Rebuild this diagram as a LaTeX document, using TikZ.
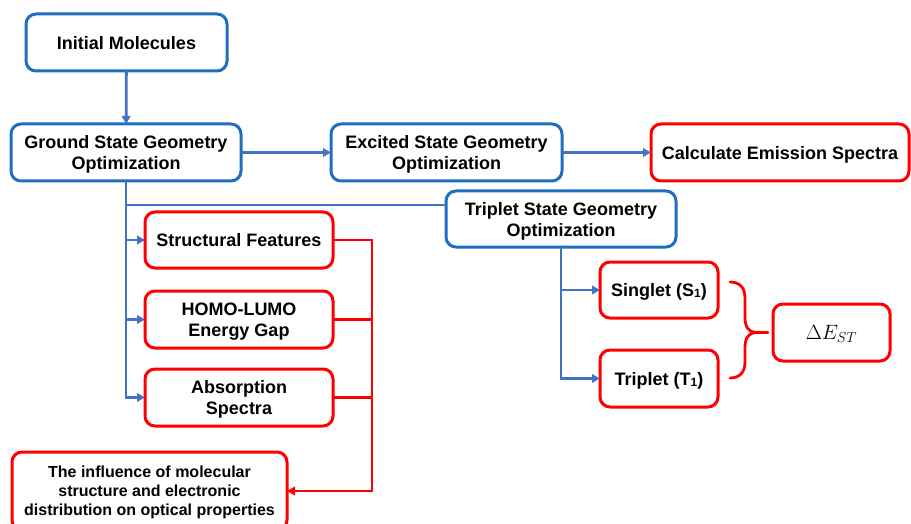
\documentclass[tikz,border=0pt]{standalone}
\usepackage{fontspec}
\setmainfont{Liberation Sans}
\usetikzlibrary{arrows.meta}
\definecolor{boxblue}{HTML}{1F6FC0}
\definecolor{lineblue}{HTML}{4472C4}
\definecolor{boxred}{HTML}{FF0000}
\tikzset{
  box/.style={draw, rounded corners=10pt, line width=3pt, inner sep=0pt, outer sep=0pt,
    align=center, font=\bfseries\fontsize{18}{21}\selectfont, text=black, text depth=0pt},
  bbox/.style={box, draw=boxblue},
  rbox/.style={box, draw=boxred},
  bconn/.style={draw=lineblue, line width=2.8pt, -{Triangle[length=8pt,width=8.5pt]}},
  bline/.style={draw=lineblue, line width=2.8pt},
  rconn/.style={draw=boxred, line width=2.8pt, -{Triangle[length=8pt,width=8.5pt]}},
  rline/.style={draw=boxred, line width=2.8pt},
}
\newcommand{\subone}{\raisebox{-1pt}{\fontsize{12}{12}\selectfont 1}}
\begin{document}
\begin{tikzpicture}[x=1pt,y=-1pt]
\useasboundingbox (0,0) rectangle (911,524);
\clip (0,0) rectangle (911,524);
\node[bbox, minimum width=201pt, minimum height=57pt] (init) at (126.5,42.5) {Initial Molecules};
\node[bbox, minimum width=230pt, minimum height=57pt] (ground) at (126,152.5) {Ground State Geometry\\Optimization};
\node[bbox, minimum width=231pt, minimum height=57pt] (excited) at (446.5,152.5) {Excited State Geometry\\Optimization};
\node[rbox, minimum width=258pt, minimum height=57pt] (emission) at (780,152.5) {Calculate Emission Spectra};
\node[bbox, minimum width=230pt, minimum height=56pt] (triplet) at (561,219) {Triplet State Geometry\\Optimization};
\node[rbox, minimum width=188pt, minimum height=56pt] (struct) at (239,240) {Structural Features};
\node[rbox, minimum width=188pt, minimum height=57pt] (homo) at (239,319.5) {HOMO-LUMO\\Energy Gap};
\node[rbox, minimum width=188pt, minimum height=57pt] (abs) at (239,397.5) {Absorption\\Spectra};
\node[rbox, minimum width=275pt, minimum height=78pt, font=\bfseries\fontsize{16}{19}\selectfont] (infl) at (149.5,491) {The influence of molecular\\structure and electronic\\distribution on optical properties};
\node[rbox, minimum width=118pt, minimum height=56pt] (singlet) at (659,290) {Singlet (S\subone)};
\node[rbox, minimum width=118pt, minimum height=57pt] (tripT) at (659,378.5) {Triplet (T\subone)};
\node[rbox, minimum width=117pt, minimum height=57pt, font=\fontsize{21}{24}\selectfont] (dest) at (831.5,332.5) {$\Delta E_{ST}$};

% blue connectors
\draw[bconn] (init) -- (ground);
\draw[bconn] (ground) -- (excited);
\draw[bconn] (excited) -- (emission);
\draw[bline] (ground.south) |- ([yshift=14pt]triplet.west);
\draw[bconn] (ground.south) |- (struct.west);
\draw[bconn] (ground.south) |- (homo.west);
\draw[bconn] (ground.south) |- (abs.west);
\draw[bconn] (triplet.south) |- (singlet.west);
\draw[bconn] (triplet.south) |- (tripT.west);

% red connectors
\coordinate (rbus) at (372,240);
\draw[rconn] (struct.east) -- (rbus) |- (infl.east);
\draw[rline] (homo.east) -- (homo.east -| rbus);
\draw[rline] (abs.east) -- (abs.east -| rbus);

% brace
\coordinate (btip) at ([xshift=-5pt]dest.west);
\draw[rline, line cap=round] (730,282) .. controls (740,282) and (745,288) .. (745,298) -- (745,318) .. controls (745,327) and (749,332.5) .. (756,332.5) -- (btip);
\draw[rline, line cap=round] (730,378) .. controls (740,378) and (745,372) .. (745,362) -- (745,347) .. controls (745,338) and (749,332.5) .. (756,332.5);
\end{tikzpicture}
\end{document}
